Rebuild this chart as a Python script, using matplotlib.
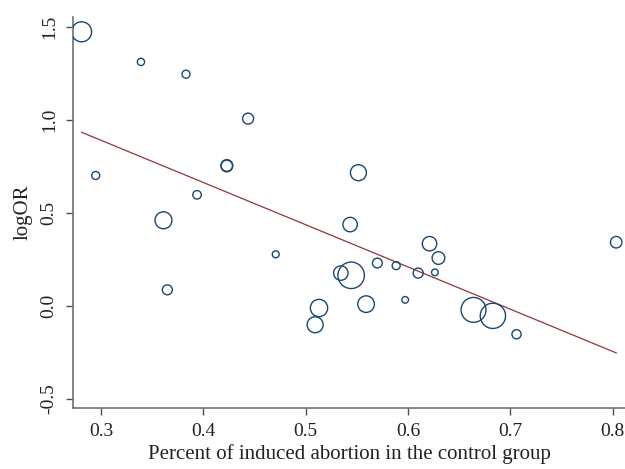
import matplotlib
matplotlib.use("Agg")
import matplotlib.pyplot as plt
import numpy as np

plt.rcParams['font.family'] = ['Liberation Serif', 'DejaVu Serif']

# Study-level data: percent induced abortion in control group, log odds ratio, study weight
pct = [0.281, 0.339, 0.383, 0.4437, 0.2948, 0.4229, 0.4229, 0.3938, 0.361,
       0.5515, 0.5434, 0.4707, 0.3648, 0.621, 0.8034, 0.6297, 0.570, 0.5884,
       0.5343, 0.5444, 0.6099, 0.6262, 0.5972, 0.559, 0.513, 0.5092, 0.664,
       0.6829, 0.706]
logor = [1.474, 1.312, 1.246, 1.007, 0.701, 0.755, 0.752, 0.597, 0.460,
         0.716, 0.437, 0.277, 0.086, 0.334, 0.342, 0.257, 0.230, 0.216,
         0.176, 0.164, 0.176, 0.180, 0.032, 0.009, -0.012, -0.102, -0.022,
         -0.054, -0.153]
weight = [100, 13, 16, 30, 16, 34, 34, 18, 72,
          64, 52, 12, 25, 52, 33, 40, 24, 16,
          52, 175, 25, 11, 11, 69, 75, 64, 155,
          160, 21]

# Meta-regression fit
intercept = 1.572
slope = -2.272

fig = plt.figure(figsize=(6.25, 4.69), dpi=100)
ax = fig.add_axes([0.1168, 0.13, 0.8832, 0.8335])

navy = '#1a476f'
maroon = '#90353b'

px_to_pt = 72.0 / 100.0
sizes = [(2 * np.sqrt(w) * px_to_pt) ** 2 for w in weight]
ax.scatter(pct, logor, s=sizes, facecolors='none', edgecolors=navy, linewidths=1.0, zorder=3)

xs = np.array([min(pct), max(pct)])
ax.plot(xs, intercept + slope * xs, color=maroon, linewidth=0.9, zorder=2)

ax.set_xlim(0.2726, 0.812)
ax.set_ylim(-0.55, 1.553)
ax.set_xticks([0.3, 0.4, 0.5, 0.6, 0.7, 0.8])
ax.set_xticklabels(['0.3', '0.4', '0.5', '0.6', '0.7', '0.8'])
ax.set_yticks([-0.5, 0.0, 0.5, 1.0, 1.5])
ax.set_yticklabels(['-0.5', '0.0', '0.5', '1.0', '1.5'], rotation=90, va='center')

for s in ['top', 'right']:
    ax.spines[s].set_visible(False)
for s in ['left', 'bottom']:
    ax.spines[s].set_color('#707070')
    ax.spines[s].set_linewidth(1.2)
ax.tick_params(axis='both', direction='out', length=5, width=1.0, color='#505050',
               labelsize=14, labelcolor='#222222', pad=6)

ax.set_xlabel('Percent of induced abortion in the control group', fontsize=15, color='#222222', labelpad=3)
ax.set_ylabel('logOR', fontsize=15, color='#222222', labelpad=6)

fig.savefig('out.png', dpi=100)
